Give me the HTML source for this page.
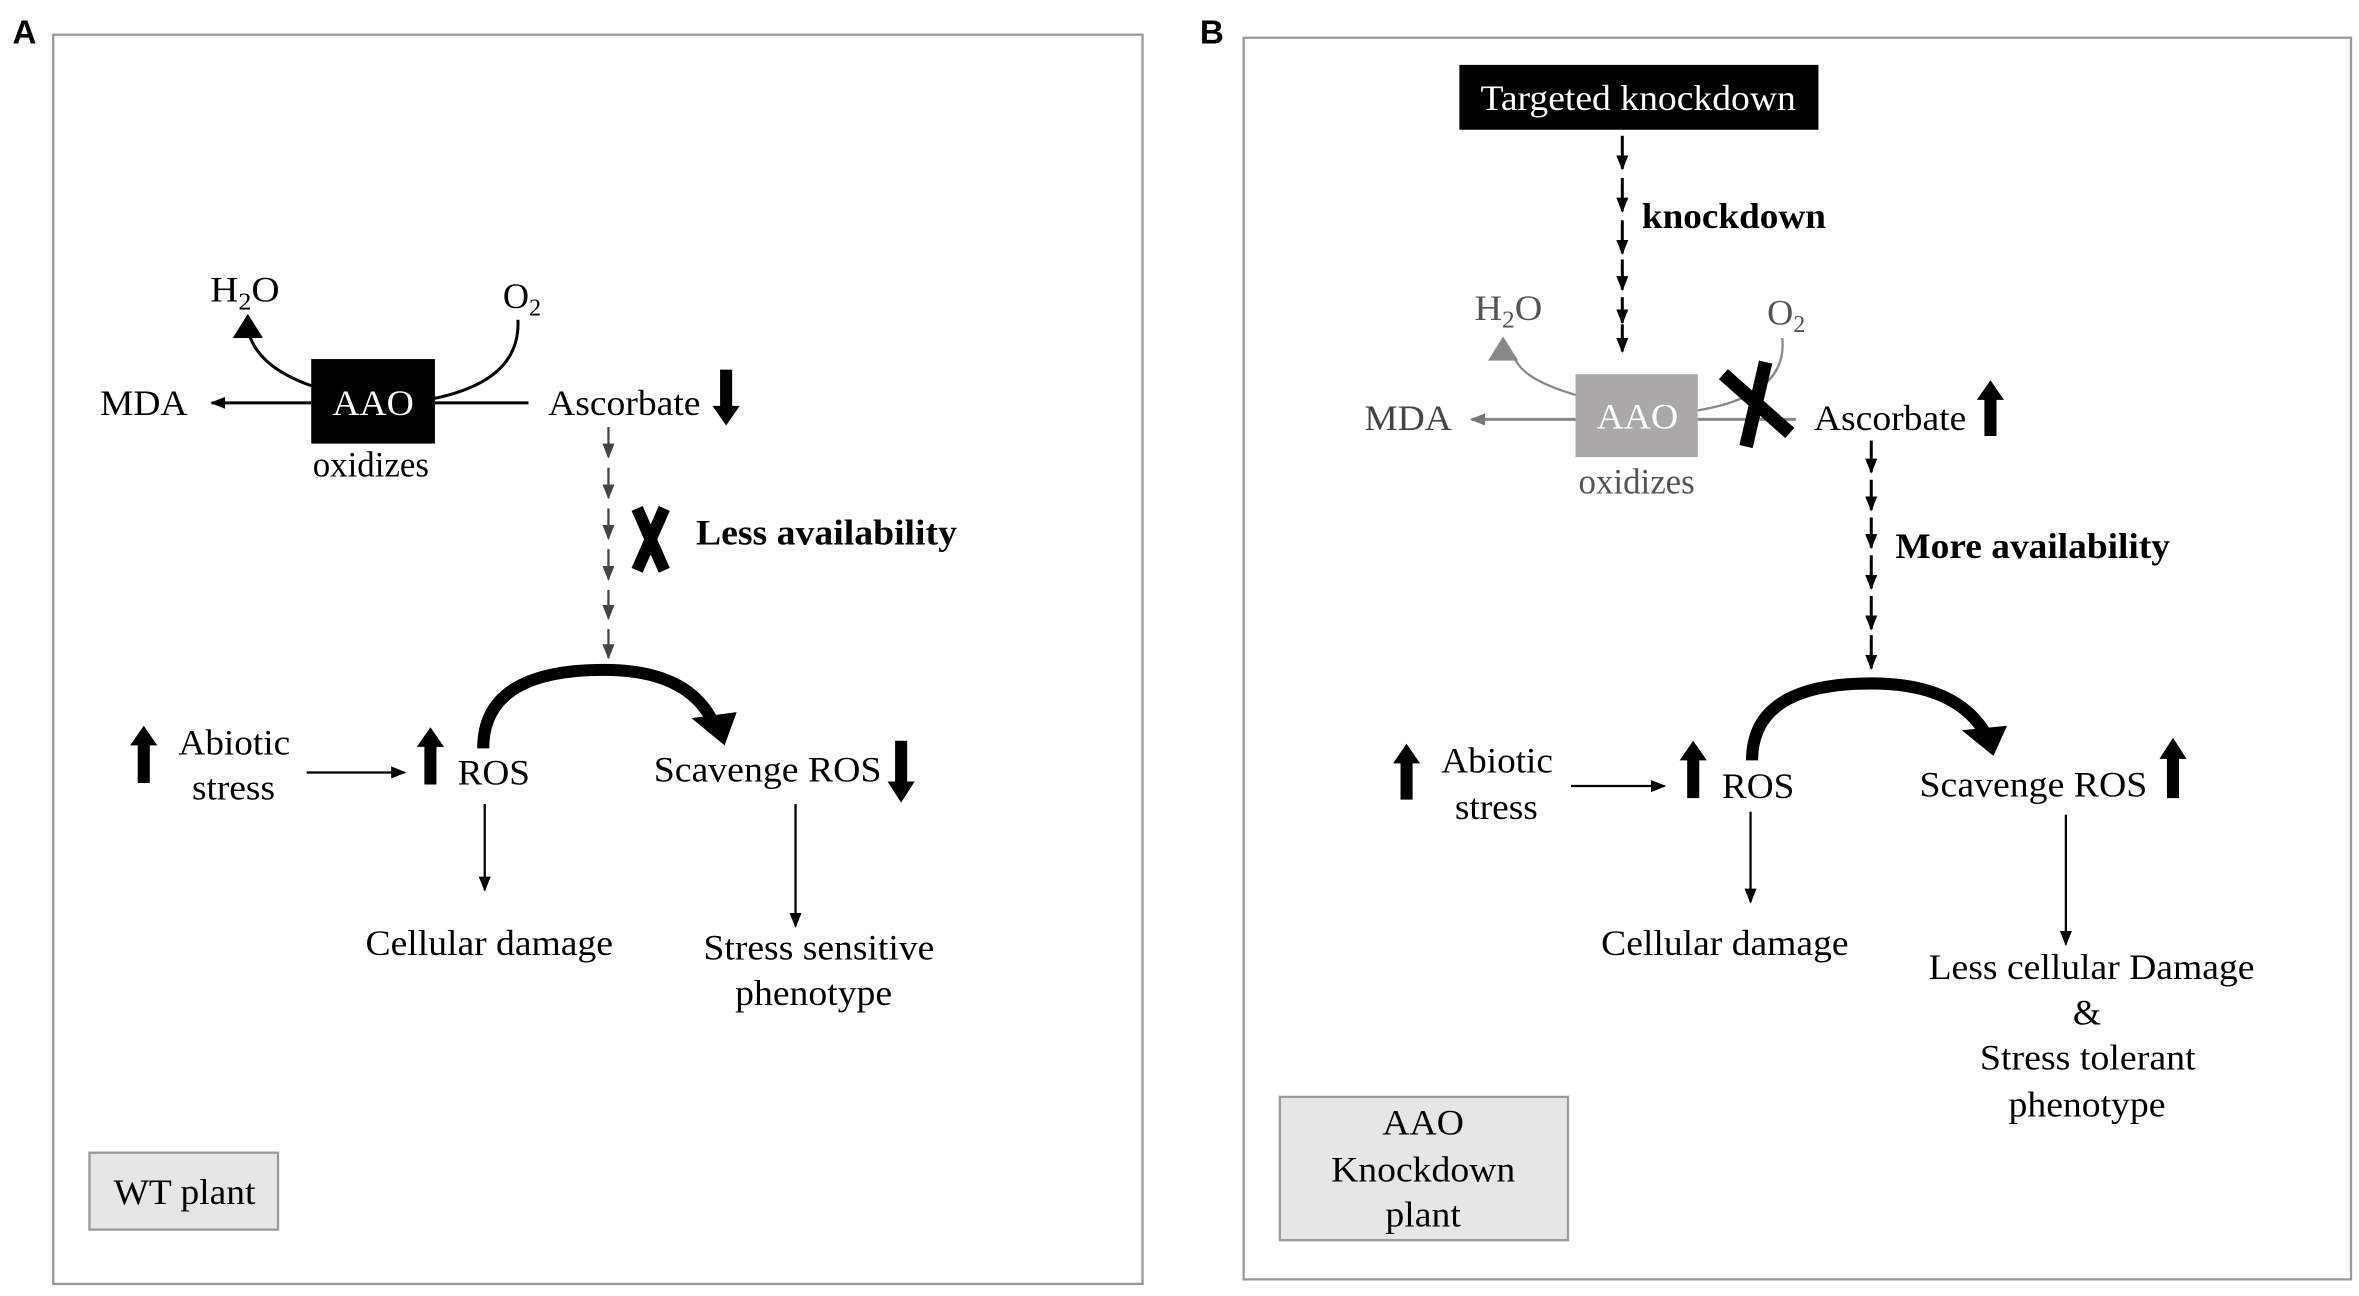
<!DOCTYPE html>
<html><head><meta charset="utf-8"><style>
html,body{margin:0;padding:0;background:#fff}
svg{display:block}
text{font-family:"Liberation Serif",serif;font-size:24px}
.b{font-weight:bold}
.s{font-family:"Liberation Sans",sans-serif;font-weight:bold;font-size:22px}
</style></head><body>
<svg width="2359" height="1296" viewBox="0 0 1563 859" xmlns="http://www.w3.org/2000/svg">
<defs>
<marker id="ah" markerWidth="10" markerHeight="10" refX="9" refY="5" orient="auto" markerUnits="userSpaceOnUse"><path d="M0,1 L10,5 L0,9 Z" fill="#000"/></marker>
<marker id="ahg" markerWidth="10" markerHeight="10" refX="9" refY="5" orient="auto" markerUnits="userSpaceOnUse"><path d="M0,1 L10,5 L0,9 Z" fill="#444"/></marker>
<marker id="ahgr" markerWidth="10" markerHeight="10" refX="9" refY="5" orient="auto" markerUnits="userSpaceOnUse"><path d="M0,1 L10,5 L0,9 Z" fill="#777"/></marker>
</defs>
<!-- Panel A -->
<text x="8" y="29" class="s">A</text>
<rect x="35" y="23" width="722" height="828" fill="none" stroke="#999" stroke-width="1.5"/>
<text x="139" y="200" textLength="46" lengthAdjust="spacingAndGlyphs">H<tspan font-size="16" dy="5">2</tspan><tspan dy="-5">O</tspan></text>
<text x="333" y="204">O<tspan font-size="16" dy="5">2</tspan></text>
<path d="M207,256 Q172,244 165,222" fill="none" stroke="#000" stroke-width="2"/>
<path d="M154,224 L164,208 L174,224 Z" fill="#000"/>
<path d="M343,212 Q345,252 288,264" fill="none" stroke="#000" stroke-width="2"/>
<rect x="206" y="238" width="82" height="56" fill="#000"/>
<text x="220" y="275" fill="#fff" textLength="54" lengthAdjust="spacingAndGlyphs">AAO</text>
<text x="207" y="316" textLength="77" lengthAdjust="spacingAndGlyphs">oxidizes</text>
<text x="66" y="275" textLength="58" lengthAdjust="spacingAndGlyphs">MDA</text>
<line x1="206" y1="267" x2="140" y2="267" stroke="#000" stroke-width="2" marker-end="url(#ah)"/>
<line x1="288" y1="267" x2="350" y2="267" stroke="#000" stroke-width="2"/>
<text x="363" y="275" textLength="101" lengthAdjust="spacingAndGlyphs">Ascorbate</text>
<path d="M477,245 h8 v24 h5 l-9,13 l-9,-13 h5 Z" fill="#000"/>
<g stroke="#444" stroke-width="1.5">
<line x1="403" y1="283" x2="403" y2="303" marker-end="url(#ahg)"/>
<line x1="403" y1="310" x2="403" y2="330" marker-end="url(#ahg)"/>
<line x1="403" y1="337" x2="403" y2="357" marker-end="url(#ahg)"/>
<line x1="403" y1="364" x2="403" y2="384" marker-end="url(#ahg)"/>
<line x1="403" y1="391" x2="403" y2="410" marker-end="url(#ahg)"/>
<line x1="403" y1="417" x2="403" y2="436" marker-end="url(#ahg)"/>
</g>
<path d="M422,337 L440,378 M440,337 L422,378" stroke="#000" stroke-width="8"/>
<text x="461" y="361" class="b" textLength="173" lengthAdjust="spacingAndGlyphs">Less availability</text>
<path d="M320,496 Q320,444 400,444 Q455,444 472,478" fill="none" stroke="#000" stroke-width="8"/>
<path d="M458,476 L488,472 L480,494 Z" fill="#000"/>
<path d="M91,519 v-25 h-5 l9,-13 l9,13 h-5 v25 Z" fill="#000"/>
<text x="118" y="500" textLength="74" lengthAdjust="spacingAndGlyphs">Abiotic</text>
<text x="127" y="530" textLength="55" lengthAdjust="spacingAndGlyphs">stress</text>
<line x1="203" y1="512" x2="268" y2="512" stroke="#000" stroke-width="1.5" marker-end="url(#ah)"/>
<path d="M281,520 v-25 h-5 l9,-13 l9,13 h-5 v25 Z" fill="#000"/>
<text x="303" y="520" textLength="48" lengthAdjust="spacingAndGlyphs">ROS</text>
<text x="433" y="518" textLength="151" lengthAdjust="spacingAndGlyphs">Scavenge ROS</text>
<path d="M593,491 h8 v27 h5 l-9,14 l-9,-14 h5 Z" fill="#000"/>
<line x1="321" y1="533" x2="321" y2="590" stroke="#000" stroke-width="1.5" marker-end="url(#ah)"/>
<text x="242" y="633" textLength="164" lengthAdjust="spacingAndGlyphs">Cellular damage</text>
<line x1="527" y1="533" x2="527" y2="614" stroke="#000" stroke-width="1.5" marker-end="url(#ah)"/>
<text x="466" y="636" textLength="153" lengthAdjust="spacingAndGlyphs">Stress sensitive</text>
<text x="487" y="666" textLength="104" lengthAdjust="spacingAndGlyphs">phenotype</text>
<rect x="59" y="764" width="125" height="51" fill="#e6e6e6" stroke="#999" stroke-width="1.5"/>
<text x="75" y="798" textLength="94" lengthAdjust="spacingAndGlyphs">WT plant</text>

<!-- Panel B -->
<text x="795" y="29" class="s">B</text>
<rect x="824" y="25" width="734" height="823" fill="none" stroke="#999" stroke-width="1.5"/>
<rect x="967" y="43" width="238" height="43" fill="#000"/>
<text x="981" y="73" fill="#fff" textLength="209" lengthAdjust="spacingAndGlyphs">Targeted knockdown</text>
<g stroke="#000" stroke-width="2">
<line x1="1075" y1="90" x2="1075" y2="112" marker-end="url(#ah)"/>
<line x1="1075" y1="118" x2="1075" y2="140" marker-end="url(#ah)"/>
<line x1="1075" y1="146" x2="1075" y2="168" marker-end="url(#ah)"/>
<line x1="1075" y1="172" x2="1075" y2="192" marker-end="url(#ah)"/>
<line x1="1075" y1="197" x2="1075" y2="214" marker-end="url(#ah)"/>
<line x1="1075" y1="215" x2="1075" y2="233" marker-end="url(#ah)"/>
</g>
<text x="1088" y="151" class="b" textLength="122" lengthAdjust="spacingAndGlyphs">knockdown</text>
<text x="977" y="212" fill="#555" textLength="45" lengthAdjust="spacingAndGlyphs">H<tspan font-size="16" dy="5">2</tspan><tspan dy="-5">O</tspan></text>
<text x="1171" y="215" fill="#555">O<tspan font-size="16" dy="5">2</tspan></text>
<path d="M1045,262 Q1010,252 1004,238" fill="none" stroke="#888" stroke-width="1.5"/>
<path d="M986,239 L996,223 L1006,239 Z" fill="#888"/>
<path d="M1181,224 Q1185,262 1125,272" fill="none" stroke="#888" stroke-width="1.5"/>
<rect x="1044" y="248" width="81" height="55" fill="#aaa8a8"/>
<text x="1058" y="284" fill="#fff" textLength="54" lengthAdjust="spacingAndGlyphs">AAO</text>
<text x="1046" y="327" fill="#555" textLength="77" lengthAdjust="spacingAndGlyphs">oxidizes</text>
<text x="904" y="285" fill="#444" textLength="58" lengthAdjust="spacingAndGlyphs">MDA</text>
<line x1="1044" y1="278" x2="975" y2="278" stroke="#888" stroke-width="2" marker-end="url(#ahgr)"/>
<line x1="1125" y1="278" x2="1190" y2="278" stroke="#888" stroke-width="2"/>
<path d="M1142,248 L1186,287 M1170,240 L1157,296" stroke="#000" stroke-width="9"/>
<text x="1202" y="285" textLength="101" lengthAdjust="spacingAndGlyphs">Ascorbate</text>
<path d="M1315,289 v-24 h-5 l9,-13 l9,13 h-5 v24 Z" fill="#000"/>
<g stroke="#000" stroke-width="2">
<line x1="1240" y1="292" x2="1240" y2="313" marker-end="url(#ah)"/>
<line x1="1240" y1="318" x2="1240" y2="338" marker-end="url(#ah)"/>
<line x1="1240" y1="343" x2="1240" y2="363" marker-end="url(#ah)"/>
<line x1="1240" y1="368" x2="1240" y2="390" marker-end="url(#ah)"/>
<line x1="1240" y1="395" x2="1240" y2="417" marker-end="url(#ah)"/>
<line x1="1240" y1="421" x2="1240" y2="443" marker-end="url(#ah)"/>
</g>
<text x="1256" y="370" class="b" textLength="182" lengthAdjust="spacingAndGlyphs">More availability</text>
<path d="M1161,504 Q1161,453 1240,453 Q1295,453 1315,485" fill="none" stroke="#000" stroke-width="8"/>
<path d="M1300,484 L1330,481 L1321,501 Z" fill="#000"/>
<path d="M928,530 v-24 h-5 l9,-13 l9,13 h-5 v24 Z" fill="#000"/>
<text x="955" y="512" textLength="74" lengthAdjust="spacingAndGlyphs">Abiotic</text>
<text x="964" y="543" textLength="55" lengthAdjust="spacingAndGlyphs">stress</text>
<line x1="1041" y1="521" x2="1103" y2="521" stroke="#000" stroke-width="1.5" marker-end="url(#ah)"/>
<path d="M1118,529 v-25 h-5 l9,-13 l9,13 h-5 v25 Z" fill="#000"/>
<text x="1141" y="529" textLength="48" lengthAdjust="spacingAndGlyphs">ROS</text>
<text x="1272" y="528" textLength="151" lengthAdjust="spacingAndGlyphs">Scavenge ROS</text>
<path d="M1436,529 v-26 h-5 l9,-14 l9,14 h-5 v26 Z" fill="#000"/>
<line x1="1160" y1="538" x2="1160" y2="598" stroke="#000" stroke-width="1.5" marker-end="url(#ah)"/>
<text x="1061" y="633" textLength="164" lengthAdjust="spacingAndGlyphs">Cellular damage</text>
<line x1="1369" y1="540" x2="1369" y2="626" stroke="#000" stroke-width="1.5" marker-end="url(#ah)"/>
<text x="1278" y="649" textLength="216" lengthAdjust="spacingAndGlyphs">Less cellular Damage</text>
<text x="1383" y="679" text-anchor="middle">&amp;</text>
<text x="1312" y="709" textLength="143" lengthAdjust="spacingAndGlyphs">Stress tolerant</text>
<text x="1331" y="740" textLength="104" lengthAdjust="spacingAndGlyphs">phenotype</text>
<rect x="848" y="727" width="191" height="95" fill="#e6e6e6" stroke="#999" stroke-width="1.5"/>
<text x="916" y="752" textLength="54" lengthAdjust="spacingAndGlyphs">AAO</text>
<text x="882" y="783" textLength="122" lengthAdjust="spacingAndGlyphs">Knockdown</text>
<text x="918" y="813" textLength="50" lengthAdjust="spacingAndGlyphs">plant</text>
</svg>
</body></html>
